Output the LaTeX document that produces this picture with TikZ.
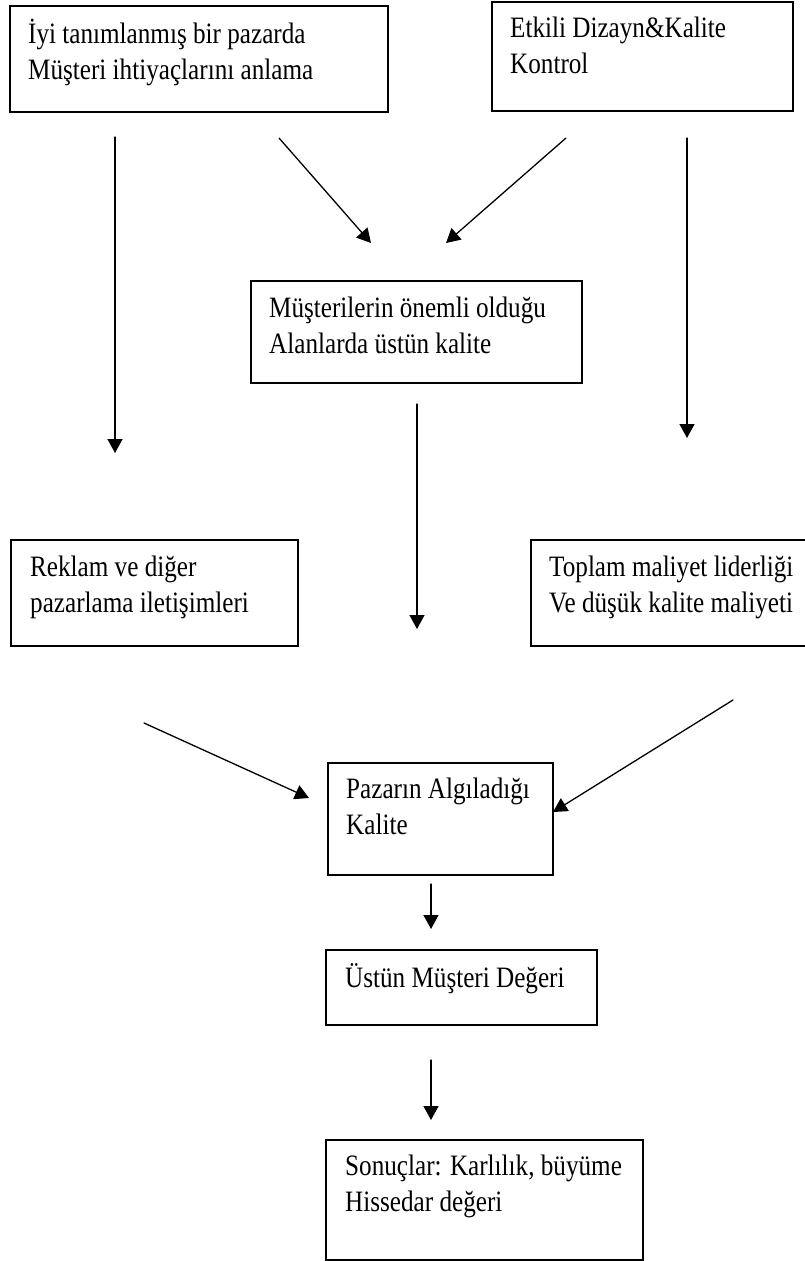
\documentclass[tikz,border=0pt]{standalone}
\usepackage{fontspec}
\setmainfont{Liberation Serif}[FakeStretch = 0.85]
\usetikzlibrary{arrows.meta}

\begin{document}
\begin{tikzpicture}[%
        x = 1pt,
        y = -1pt,
        line cap = round,
        > = {Triangle[length = 14pt, width = 15pt]},
        box/.style = {draw, line width = 1.7pt, inner sep = 0pt, anchor = north west},
        txt/.style = {anchor = base west, align = left, inner sep = 0pt,
            font = \fontsize{29.6}{35.5}\selectfont}
    ]

        % Page size.
        \useasboundingbox (0, 0) rectangle (804, 1261);

        % The boxes, placed by their top left corners.
        \node[box, minimum width = 378pt, minimum height = 106pt] (need) at (9, 5) {};
        \node[box, minimum width = 301pt, minimum height = 109pt] (design) at (491, 1) {};
        \node[box, minimum width = 331pt, minimum height = 102pt] (superior) at (250, 280) {};
        \node[box, minimum width = 287pt, minimum height = 106pt] (advert) at (10, 539) {};
        \node[box, minimum width = 278pt, minimum height = 106pt] (cost) at (530, 539) {};
        \node[box, minimum width = 225pt, minimum height = 112pt] (perceived) at (327, 762) {};
        \node[box, minimum width = 271pt, minimum height = 75pt] (value) at (325, 949) {};
        \node[box, minimum width = 317pt, minimum height = 120pt] (result) at (325, 1139) {};

        % Add all of the labels (placed by the baseline of their last line).
        \node[txt] (needT) at (28, 79) {İyi tanımlanmış bir pazarda\\Müşteri ihtiyaçlarını anlama};
        \node[txt] (designT) at (510, 73) {Etkili Dizayn\&Kalite\\Kontrol};
        \node[txt] (superiorT) at (269, 353) {Müşterilerin önemli olduğu\\Alanlarda üstün kalite};
        \node[txt] (advertT) at (30, 612) {Reklam ve diğer\\pazarlama iletişimleri};
        \node[txt] (costT) at (549, 612) {Toplam maliyet liderliği\\Ve düşük kalite maliyeti};
        \node[txt] (perceivedT) at (346, 834) {Pazarın Algıladığı\\Kalite};
        \node[txt] (valueT) at (345, 987) {Üstün Müşteri Değeri};
        \node[txt] (resultT) at (345, 1211) {Sonuçlar: Karlılık, büyüme\\Hissedar değeri};

        % Start and end points of the arrows.
        \coordinate (l1) at (115, 137);
        \coordinate (l2) at (115, 453);
        \coordinate (d1) at (279, 138);
        \coordinate (d2) at (371, 243);
        \coordinate (d3) at (566, 138);
        \coordinate (d4) at (446, 243);
        \coordinate (r1) at (687, 138);
        \coordinate (r2) at (687, 438);
        \coordinate (c1) at (417, 404);
        \coordinate (c2) at (417, 629);
        \coordinate (p1) at (144, 723);
        \coordinate (p2) at (309, 798);
        \coordinate (p3) at (733, 700);
        \coordinate (p4) at (553, 812);
        \coordinate (v1) at (431, 884);
        \coordinate (v2) at (431, 929);
        \coordinate (s1) at (431, 1060);
        \coordinate (s2) at (431, 1120);

        % Arrows between the boxes.
        \begin{scope}[->, line width = 1.3pt]
            \draw (l1) to (l2);
            \draw (d1) to (d2);
            \draw (d3) to (d4);
            \draw (r1) to (r2);
            \draw (c1) to (c2);
            \draw (p1) to (p2);
            \draw (p3) to (p4);
            \draw (v1) to (v2);
            \draw (s1) to (s2);
        \end{scope}
    \end{tikzpicture}
\end{document}
